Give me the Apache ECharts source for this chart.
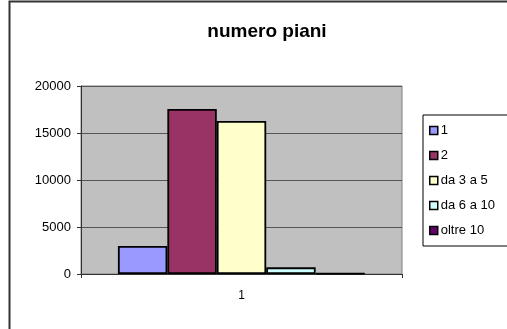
<!DOCTYPE html>
<html>
<head>
<meta charset="utf-8">
<script src="https://cdn.jsdelivr.net/npm/echarts@6/dist/echarts.min.js"></script>
<style>
  html, body { margin: 0; padding: 0; background: #fff; }
  #chart { width: 507px; height: 329px; }
</style>
</head>
<body>
<div id="chart"></div>
<script>
// dati
const categories = ["1"];
const seriesNames = ["1", "2", "da 3 a 5", "da 6 a 10", "oltre 10"];
const seriesValues = [2980, 17550, 16280, 710, 60];
const seriesColors = ["#9999ff", "#993366", "#ffffcc", "#ccffff", "#660066"];
const yTicks = { min: 0, max: 20000, interval: 5000 };

const chart = echarts.init(document.getElementById("chart"));

const series = seriesNames.map((name, i) => ({
  name: name,
  type: "bar",
  data: [seriesValues[i]],
  barGap: "0%",
  barCategoryGap: "23%",
  itemStyle: {
    color: seriesColors[i],
    borderColor: "#000",
    borderWidth: 1.8
  }
}));

chart.setOption({
  animation: false,
  textStyle: { fontFamily: "Liberation Sans, Arial, sans-serif" },
  title: {
    text: "numero piani",
    left: 262,
    textAlign: "center",
    top: 17,
    textStyle: { fontSize: 19, fontWeight: "bold", color: "#000" }
  },
  graphic: [{
    // bordo dell'area grafico (solo sinistra e sopra visibili)
    type: "polyline",
    shape: { points: [[9.5, 340], [9.5, 1.5], [520, 1.5]] },
    style: { fill: null, stroke: "#333", lineWidth: 2 },
    silent: true
  }],
  legend: {
    orient: "vertical",
    left: 423,
    top: 115,
    padding: [9, 20, 9, 6],
    itemWidth: 8,
    itemHeight: 8,
    itemGap: 12,
    itemStyle: { borderColor: "#000", borderWidth: 1.5 },
    borderColor: "#000",
    borderWidth: 1,
    textStyle: { fontSize: 13, color: "#000", padding: [0, 0, 0, -2] },
    data: seriesNames.map(n => ({ name: n, icon: "rect" }))
  },
  grid: {
    left: 81,
    right: 105,
    top: 86,
    bottom: 55,
    show: true,
    backgroundColor: "#c0c0c0",
    borderColor: "#808080",
    borderWidth: 1
  },
  xAxis: {
    type: "category",
    data: categories,
    axisLine: { lineStyle: { color: "#333", width: 1 } },
    axisTick: { show: true, length: 4, lineStyle: { color: "#333" } },
    axisLabel: { fontSize: 12, color: "#000", margin: 16 }
  },
  yAxis: {
    type: "value",
    min: yTicks.min,
    max: yTicks.max,
    interval: yTicks.interval,
    axisLine: { show: true, lineStyle: { color: "#333", width: 1 } },
    axisTick: { show: true, length: 4, lineStyle: { color: "#333" } },
    axisLabel: { fontSize: 13, color: "#000", margin: 10, formatter: v => String(v) },
    splitLine: { lineStyle: { color: "#555", width: 1 } }
  },
  series: series
});
</script>
</body>
</html>
